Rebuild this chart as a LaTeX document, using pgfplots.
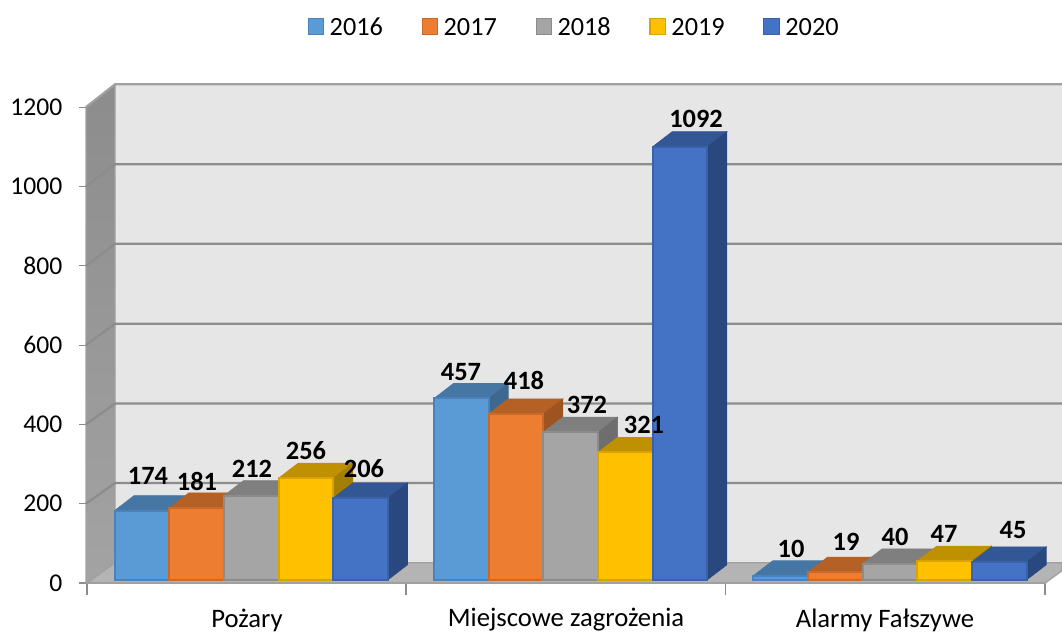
\documentclass[border=0pt]{standalone}
\usepackage{pgfplots}
\pgfplotsset{compat=1.18}
\usepackage{fontspec}
\setmainfont{Carlito}
\definecolor{af}{HTML}{5B9BD5}\definecolor{at}{HTML}{4676A3}\definecolor{as}{HTML}{3E6890}\definecolor{ae}{HTML}{4A82BC}
\definecolor{bf}{HTML}{ED7D31}\definecolor{bt}{HTML}{B56025}\definecolor{bs}{HTML}{9E5420}\definecolor{be}{HTML}{C96A2A}
\definecolor{cf}{HTML}{A5A5A5}\definecolor{ct}{HTML}{7F7F7F}\definecolor{cs}{HTML}{6E6E6E}\definecolor{ce}{HTML}{8C8C8C}
\definecolor{df}{HTML}{FFC000}\definecolor{dt}{HTML}{BF9000}\definecolor{ds}{HTML}{A57D00}\definecolor{de}{HTML}{D9A300}
\definecolor{ef}{HTML}{4472C4}\definecolor{et}{HTML}{335695}\definecolor{es}{HTML}{2A4880}\definecolor{ee}{HTML}{3A62A8}
\definecolor{wallb}{HTML}{E6E6E6}\definecolor{grd}{HTML}{8C8C8C}\definecolor{flr}{HTML}{B4B4B4}\definecolor{edg}{HTML}{A0A0A0}
\newcommand{\bbar}[3]{%
  \pgfmathsetmacro\xa{#1}\pgfmathsetmacro\xb{#1+54.7}%
  \pgfmathsetmacro\xc{#1+54.7+19.5}\pgfmathsetmacro\xd{#1+19.5}%
  \pgfmathsetmacro\yo{8.3}\pgfmathsetmacro\yt{#2+8.3}%
  \pgfmathsetmacro\yoo{8.3+37.8}\pgfmathsetmacro\ytt{#2+8.3+37.8}%
  \edef\tmp{%
    \noexpand\addplot[forget plot,fill=#3t,draw=#3t,line width=0.5pt] coordinates {(\xa,\yt)(\xb,\yt)(\xc,\ytt)(\xd,\ytt)} -- cycle;%
    \noexpand\addplot[forget plot,fill=#3s,draw=#3s,line width=0.5pt] coordinates {(\xb,\yo)(\xc,\yoo)(\xc,\ytt)(\xb,\yt)} -- cycle;%
    \noexpand\addplot[forget plot,fill=#3f,draw=#3e,line width=1.5pt] coordinates {(\xa,\yo)(\xb,\yo)(\xb,\yt)(\xa,\yt)} -- cycle;%
  }\tmp}
\newcommand{\lab}[3]{\node[font=\fontsize{19.8}{22}\selectfont\bfseries,inner sep=0pt] at (axis cs:#1,{(583.3-#2)/.39667}) {#3};}
\begin{document}
\begin{tikzpicture}
\begin{axis}[
  at={(64.5pt,36.75pt)},anchor=south west,
  scale only axis,width=732pt,height=374.25pt,
  xmin=86,xmax=1062,ymin=0,ymax=1258.4,
  clip=false,
  axis line style={draw=none},
  xtick pos=bottom,ytick pos=left,
  tick align=outside,
  ytick={0,200,400,600,800,1000,1200},
  xtick={247,566,885},
  xticklabels={Pożary,Miejscowe zagrożenia,Alarmy Fałszywe},
  minor xtick={87,406,725.5,1045},
  major tick length=5.25pt,
  minor tick length=9pt,
  x tick style={draw=none},
  minor x tick style={draw=grd,line width=0.8pt},
  y tick style={draw=grd,line width=0.8pt},
  yticklabel style={font=\fontsize{19.2}{22}\selectfont,xshift=-9pt},
  xticklabel style={font=\fontsize{20}{24}\selectfont,anchor=center,inner sep=0pt,yshift=-22.5pt},
  /pgf/number format/assume math mode=true,
  /pgf/number format/1000 sep={},
  legend columns=5,
  legend style={at={(0.5005,1.1155)},anchor=center,draw=none,fill=none,inner sep=0pt,
    font=\fontsize{19.7}{23}\selectfont,
    nodes={text height=13pt,text depth=0pt},
    /tikz/every even column/.append style={column sep=27pt},
    /tikz/every odd column/.append style={column sep=2pt}},
  legend cell align=left,
  legend image code/.code={\draw[#1,line width=0.8pt] (0pt,-5.85pt) rectangle (11.7pt,5.85pt);},
]
% walls
\addplot[forget plot,fill=wallb,draw=none] coordinates {(115,51)(1062,51)(1062,1257.5)(115,1257.5)} -- cycle;
\addplot[forget plot,top color=black!45,bottom color=black!36,draw=edg,line width=0.8pt] coordinates {(86,0)(115,51)(115,1257.5)(86,1200)} -- cycle;
\addplot[forget plot,fill=flr,draw=edg,line width=1pt] coordinates {(87,0)(115,51)(1062,51)(1062,31)(1045,0)} -- cycle;
\addplot[forget plot,draw=edg,line width=2pt] coordinates {(87,0)(1045,0)};
% grid
\addplot[forget plot,draw=grd,line width=1.7pt] coordinates {(86,200)(115,252.1)(1062,252.1)};
\addplot[forget plot,draw=grd,line width=1.7pt] coordinates {(86,400)(115,452.8)(1062,452.8)};
\addplot[forget plot,draw=grd,line width=1.7pt] coordinates {(86,600)(115,653.7)(1062,653.7)};
\addplot[forget plot,draw=grd,line width=1.7pt] coordinates {(86,800)(115,855.4)(1062,855.4)};
\addplot[forget plot,draw=grd,line width=1.7pt] coordinates {(86,1000)(115,1056.3)(1062,1056.3)};
\addplot[forget plot,draw=edg,line width=1.7pt] coordinates {(86,1200)(115,1257.5)(1062,1257.5)};
% bars
\bbar{114.5}{174}{a}\bbar{169.3}{181}{b}\bbar{224}{212}{c}\bbar{278.6}{256}{d}\bbar{333.3}{206}{e}
\bbar{434}{457}{a}\bbar{488.7}{418}{b}\bbar{543.4}{372}{c}\bbar{598}{321}{d}\bbar{652.7}{1092}{e}
\bbar{753.3}{10}{a}\bbar{808}{19}{b}\bbar{862.7}{40}{c}\bbar{917.3}{47}{d}\bbar{972}{45}{e}
% labels
\lab{148}{476}{174}\lab{197}{482}{181}\lab{252}{469}{212}\lab{306}{451}{256}\lab{364}{469}{206}
\lab{461}{372}{457}\lab{524}{381}{418}\lab{587}{405}{372}\lab{644}{425}{321}\lab{696}{119}{1092}
\lab{791}{549}{10}\lab{846}{542}{19}\lab{895}{537}{40}\lab{944}{534}{47}\lab{1013}{530}{45}
% legend
\addlegendimage{fill=af,draw=ae}\addlegendentry{2016}
\addlegendimage{fill=bf,draw=be}\addlegendentry{2017}
\addlegendimage{fill=cf,draw=ce}\addlegendentry{2018}
\addlegendimage{fill=df,draw=de}\addlegendentry{2019}
\addlegendimage{fill=ef,draw=ee}\addlegendentry{2020}
\end{axis}
\pgfresetboundingbox
\path[use as bounding box] (0,0) rectangle (796.5pt,474pt);
\end{tikzpicture}
\end{document}
